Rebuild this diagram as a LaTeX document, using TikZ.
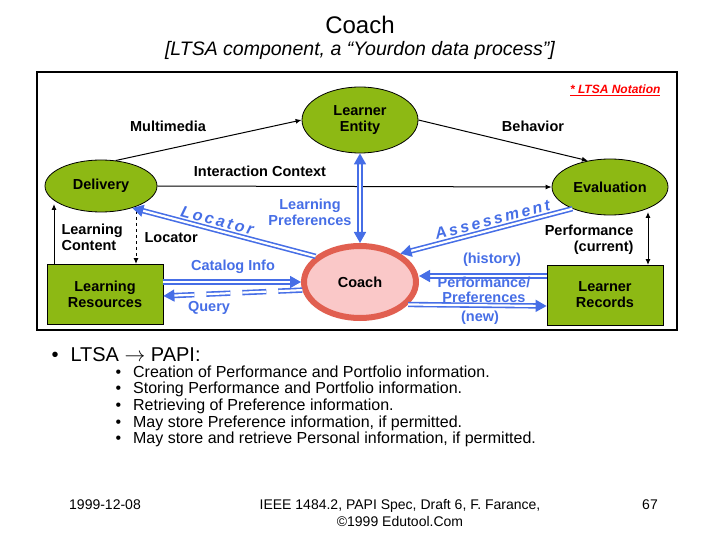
\documentclass[tikz,border=0pt]{standalone}
\usepackage{fontspec}
\setmainfont{Liberation Sans}
\usetikzlibrary{arrows.meta,shapes.geometric}
\definecolor{grn}{RGB}{141,185,20}
\definecolor{blu}{RGB}{70,110,230}
\definecolor{cred}{RGB}{225,95,80}
\definecolor{cpink}{RGB}{250,200,200}
\begin{document}
\begin{tikzpicture}[x=1pt,y=-1pt,
  ell/.style={ellipse,draw=black,fill=grn,line width=0.8pt,inner sep=0pt},
  box/.style={rectangle,draw=black,fill=grn,line width=0.8pt,inner sep=0pt},
  lab/.style={font=\fontsize{14.5}{16}\selectfont\bfseries,align=center},
  blab/.style={lab,text=blu},
  blk/.style={line width=1pt,-{Latex[length=6pt,width=5pt]}},
  dbl/.style={draw=blu,double=white,double distance=2.2pt,line width=1.6pt,>={Triangle[length=11pt,width=12pt,fill=blu]},->},
  bt/.style={font=\fontsize{16}{18}\selectfont,anchor=west}]
\useasboundingbox (0,0) rectangle (720,540);
\node[font=\fontsize{24}{26}\selectfont] (t) at (360,25) {Coach};
\node[font=\fontsize{19.5}{22}\selectfont\itshape] (st) at (360,50) {[LTSA component, a “Yourdon data process”]};
\draw[line width=2pt] (37,72) rectangle (677,330);
\node[font=\fontsize{12}{14}\selectfont\bfseries\itshape,text=red,anchor=east] (ln) at (664,90) {\underline{* LTSA Notation}};
\node[ell,minimum width=116pt,minimum height=66pt,lab] (le) at (360,120) {Learner\\Entity};
\node[ell,minimum width=112pt,minimum height=52pt,lab] (del) at (101,186) {Delivery};
\node[ell,minimum width=116pt,minimum height=56pt,lab] (ev) at (610,187) {Evaluation};
\node[ellipse,draw=cred,fill=cpink,line width=6pt,minimum width=112pt,minimum height=72pt,lab,inner sep=0pt] (co) at (360,282) {Coach};
\node[box,minimum width=116pt,minimum height=60pt,lab] (lr) at (105,294) {Learning\\Resources};
\node[box,minimum width=116pt,minimum height=60pt,lab] (rec) at (605,295) {Learner\\Records};
% black
\draw[blk] (del.60) -- (le.west) ;
\node[lab] (mm) at (168,126) {Multimedia};
\draw[blk] (le.east) -- (ev.130);
\node[lab] (bh) at (533,126) {Behavior};
\draw[blk] (del.east) -- (ev.west);
\node[lab] (ic) at (260,171) {Interaction Context};
\coordinate (lc1) at (54,264);
\coordinate (lc2) at (54,204);
\draw[blk] (lc1) -- (lc2);
\coordinate (lo1) at (136,211);
\coordinate (lo2) at (136,264);
\draw[blk,dashed] (lo1) -- (lo2);
\node[lab,align=left,anchor=west] (lct) at (58,237) {Learning\\Content};
\node[lab,anchor=west] (lot) at (141,238) {Locator};
\coordinate (pc1) at (648,212);
\coordinate (pc2) at (648,265);
\draw[line width=1pt,{Latex[length=6pt,width=5pt]}-{Latex[length=6pt,width=5pt]}] (pc1) -- (pc2);
\node[lab,align=right,anchor=east] (pct) at (637,240) {Performance\\(current)};
% blue
\draw[dbl] (co.150) -- (del.-35) node[pos=0.55,sloped,above=0pt,blab,font=\fontsize{16}{16}\selectfont\bfseries\itshape]{L\,o\,c\,a\,t\,o\,r};
\draw[dbl,<->] (le.south) -- (co.north);
\node[blab] (lp) at (310,212) {Learning\\Preferences};
\draw[dbl] (lr.east |- 0,282) -- (co.west |- 0,282);
\node[blab] (ci) at (233,267) {Catalog Info};
\draw[dbl,dash pattern=on 24pt off 12pt] (co.188) -- (lr.east |- 0,296);
\node[blab] (qu) at (209,308) {Query};
\draw[dbl] (ev.-150) -- (co.35) node[pos=0.45,sloped,above=0pt,blab,font=\fontsize{16}{16}\selectfont\bfseries\itshape]{A\,s\,s\,e\,s\,s\,m\,e\,n\,t};
\draw[dbl] (rec.west |- 0,276) -- (co.east |- 0,276);
\node[blab] (hi) at (492,260) {(history)};
\draw[dbl] (co.-25) -- (rec.west |- 0,306);
\node[blab,font=\fontsize{14.5}{15}\selectfont\bfseries] (pp) at (484,290) {Performance/\\Preferences};
\node[blab] (nw) at (480,318) {(new)};
% text
\node[font=\fontsize{20}{22}\selectfont,anchor=west] (b0) at (48,355) {•\hspace{12pt}LTSA $\rightarrow$ PAPI:};
\foreach \yy/\tt [count=\i] in {372/Creation of Performance and Portfolio information.,389/Storing Performance and Portfolio information.,406/Retrieving of Preference information.,423/May store Preference information{,} if permitted.,439/May store and retrieve Personal information{,} if permitted.}{
  \node[bt] (bb\i) at (112,\yy) {•\hspace{12pt}\tt};
}
\node[font=\fontsize{14}{16}\selectfont] (f1) at (105,505) {1999-12-08};
\node[font=\fontsize{14}{17}\selectfont,align=center] (f2) at (400,513) {IEEE 1484.2, PAPI Spec, Draft 6, F. Farance,\\©1999 Edutool.Com};
\node[font=\fontsize{14}{16}\selectfont] (f3) at (650,505) {67};
\end{tikzpicture}
\end{document}
